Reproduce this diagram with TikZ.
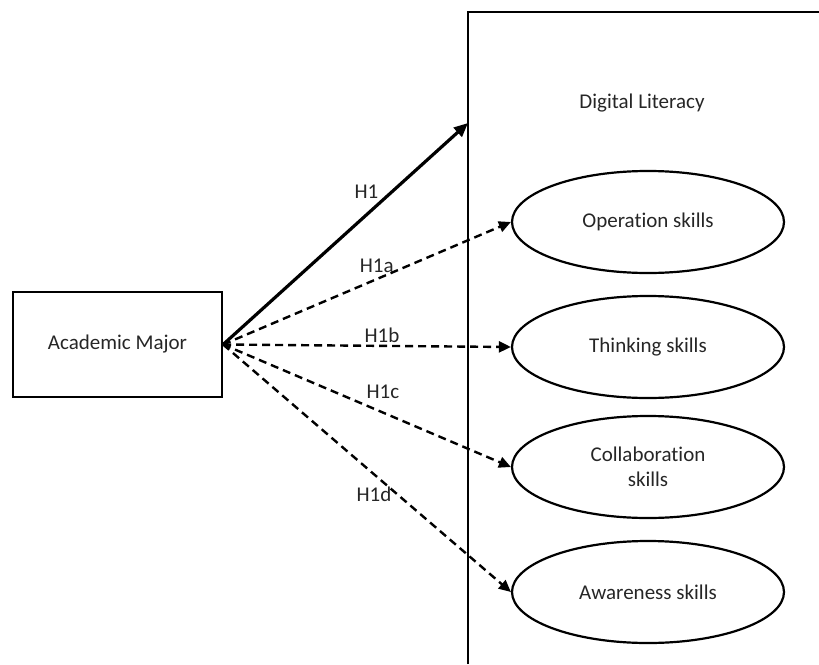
\documentclass[tikz,border=0pt]{standalone}
\usepackage{fontspec}
\setmainfont[Ligatures={NoCommon}]{Carlito}
\usepackage{tikz}
\usetikzlibrary{arrows.meta, shapes.geometric}

\tikzset{
	major/.style = {draw, line width=1.1pt, minimum width=104.5pt, minimum height=52.5pt, inner sep=0pt},
	skill/.style = {draw, ellipse, line width=1.1pt, minimum width=136pt, minimum height=51pt, inner sep=0pt, align=center},
	hyp/.style = {line width=1.2pt, dash pattern=on 4pt off 2.5pt, -{Triangle[length=6pt, width=5.5pt]}},
	hlabel/.style = {text=black!85, inner sep=0pt}
}

\begin{document}
\begin{tikzpicture}[x=0.5pt, y=-0.5pt, font=\fontsize{10.5}{12.6}\selectfont, text=black!85]

	\useasboundingbox (0,0) rectangle (819,664);

% draw the digital literacy frame
	\draw[line width=1.1pt] (468,664) -- (468,12) -- (819,12);
	\node[hlabel] (dl) at (642,103) {Digital Literacy};
	\coordinate (frame) at (468,123);

% draw nodes
	\node[major] (major) at (117.5,344.5) {Academic Major};

	\node[skill] (op) at (648,222) {Operation skills};
	\node[skill] (th) at (648,347) {Thinking skills};
	\node[skill] (co) at (648,467) {Collaboration\\skills};
	\node[skill] (aw) at (648,592) {Awareness skills};

% draw hypotheses
	\draw[line width=1.6pt, -{Triangle[length=7pt, width=6pt]}] (major.east) -- (frame)
		node[hlabel, pos=.585, yshift=11.5pt] (h1) {H1};
	\draw[hyp] (major.east) -- (op.west)
		node[hlabel, pos=.534, yshift=6.5pt] (h1a) {H1a};
	\draw[hyp] (major.east) -- (th.west)
		node[hlabel, pos=.552, yshift=5.5pt] (h1b) {H1b};
	\draw[hyp] (major.east) -- (co.west)
		node[hlabel, pos=.555, yshift=10.5pt] (h1c) {H1c};
	\draw[hyp] (major.east) -- (aw.west)
		node[hlabel, pos=.524, yshift=-10pt] (h1d) {H1d};

\end{tikzpicture}
\end{document}
